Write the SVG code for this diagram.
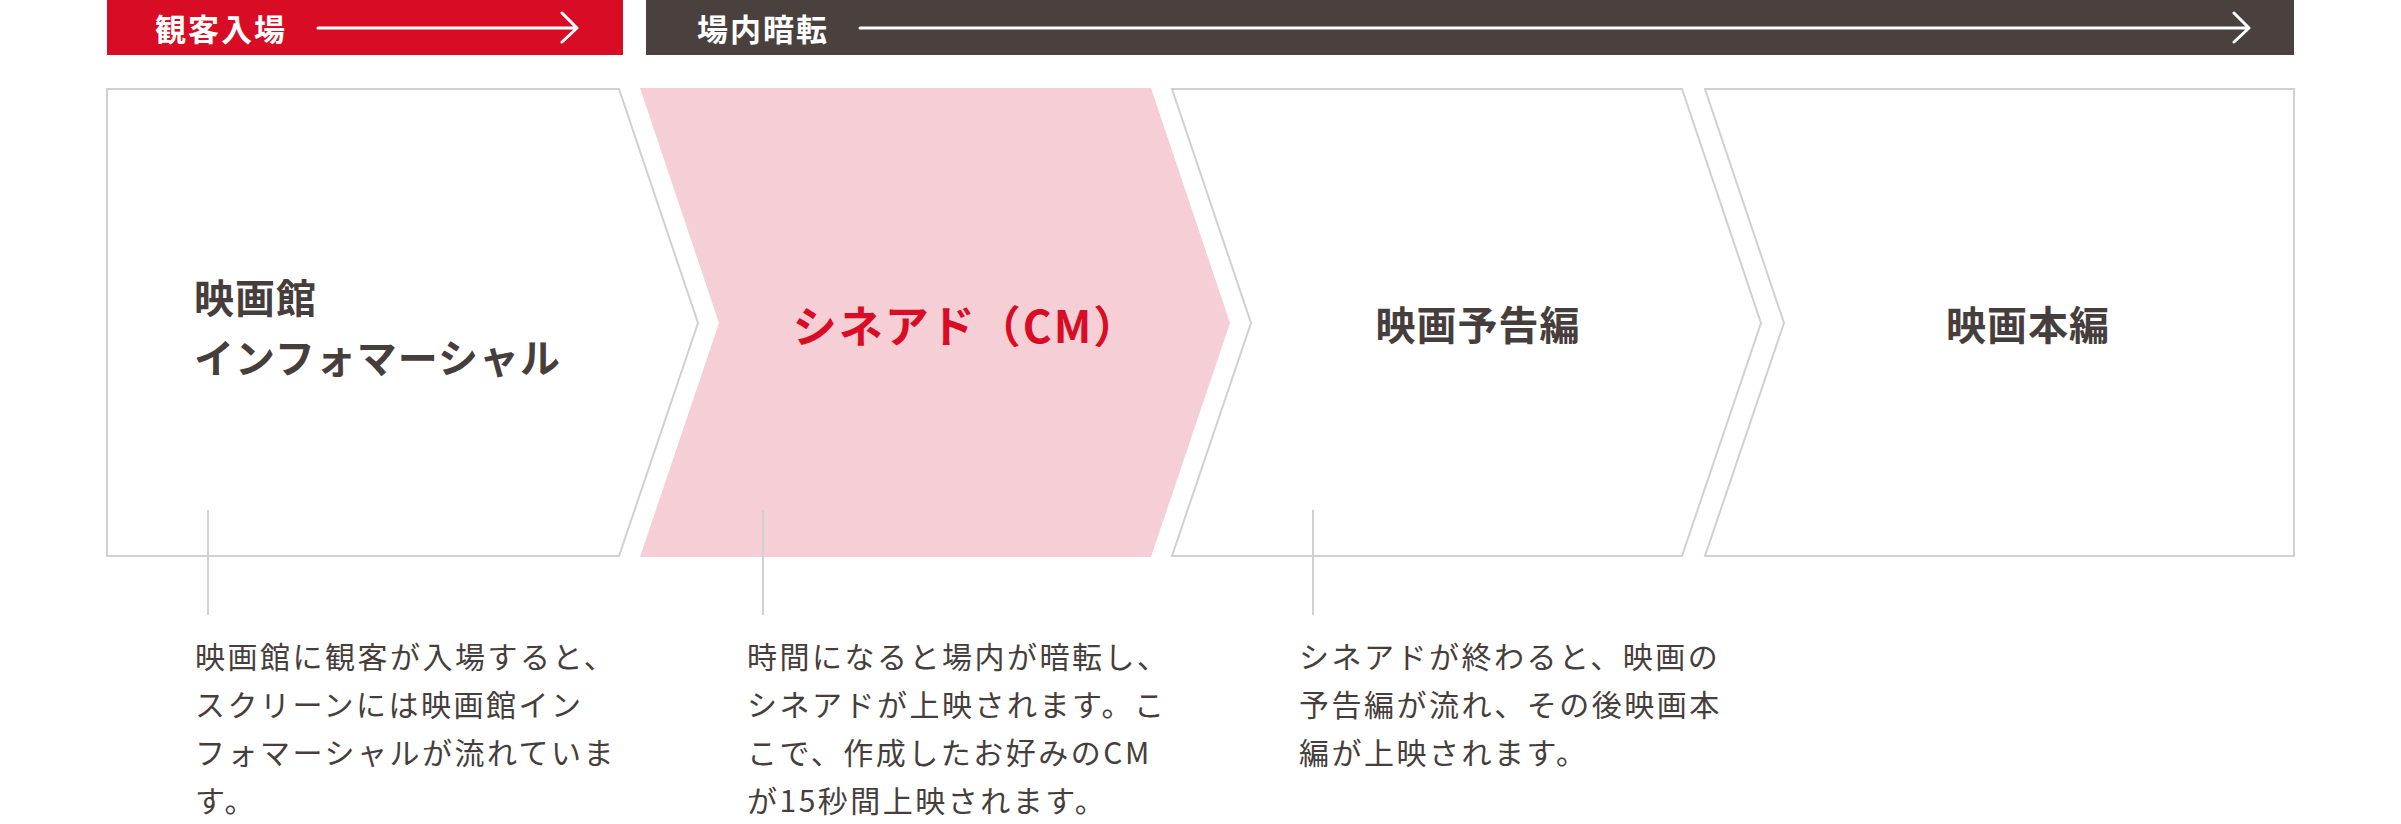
<svg xmlns="http://www.w3.org/2000/svg" width="2401" height="824" viewBox="0 0 2401 824">
<style>
.box{fill:#ffffff;stroke:#d0d0d0;stroke-width:2}
.hd{font-family:"Noto Sans CJK JP","Noto Sans",sans-serif;font-weight:700;font-size:31px;fill:#ffffff;letter-spacing:2px}
.ttl{font-family:"Noto Sans CJK JP","Noto Sans",sans-serif;font-weight:700;font-size:40px;fill:#463e3c;letter-spacing:1px}
.ttl-red{font-family:"Noto Sans CJK JP","Noto Sans",sans-serif;font-weight:700;font-size:44px;fill:#d80c24;letter-spacing:2px}
.desc{font-family:"Noto Sans CJK JP","Noto Sans",sans-serif;font-weight:400;font-size:30px;fill:#463e3c;letter-spacing:2.5px}
.arr{fill:none;stroke:#ffffff;stroke-width:3;stroke-linecap:round;stroke-linejoin:round}
.lead{stroke:#d0d0d0;stroke-width:2}
</style>
<g id="header-entry">
<rect x="107" y="0" width="516" height="55" fill="#d80c24"/>
<text class="hd" x="155" y="41">観客入場</text>
<path class="arr" d="M318,28 H576 M562,13 L577,28 L562,42"/>
</g>
<g id="header-dark">
<rect x="646" y="0" width="1648" height="55" fill="#4a403e"/>
<text class="hd" x="697" y="41">場内暗転</text>
<path class="arr" d="M860,28 H2248 M2234,13 L2249,28 L2234,42"/>
</g>
<g id="node-infomercial">
<path class="box" d="M107,89 L619,89 L698,323 L619,556 L107,556 Z"/>
<text class="ttl" x="194" y="313">映画館</text>
<text class="ttl" x="194" y="373">インフォマーシャル</text>
</g>
<g id="node-cinead">
<path d="M640,88 L1151,88 L1230,323 L1151,557 L640,557 L719,323 Z" fill="#f6ced5"/>
<text class="ttl-red" x="966" y="343" text-anchor="middle">シネアド（CM）</text>
</g>
<g id="node-trailer">
<path class="box" d="M1172,89 L1682,89 L1761,323 L1682,556 L1172,556 L1251,323 Z"/>
<text class="ttl" x="1478" y="340" text-anchor="middle">映画予告編</text>
</g>
<g id="node-feature">
<path class="box" d="M1705,89 L2294,89 L2294,556 L1705,556 L1784,323 Z"/>
<text class="ttl" x="2028" y="340" text-anchor="middle">映画本編</text>
</g>
<g id="connectors">
<line class="lead" x1="208" y1="510" x2="208" y2="615"/>
<line class="lead" x1="763" y1="510" x2="763" y2="615"/>
<line class="lead" x1="1313" y1="510" x2="1313" y2="615"/>
</g>
<g id="desc-infomercial">
<text class="desc" x="195" y="668">映画館に観客が入場すると、</text>
<text class="desc" x="195" y="716">スクリーンには映画館イン</text>
<text class="desc" x="195" y="764">フォマーシャルが流れていま</text>
<text class="desc" x="195" y="812">す。</text>
</g>
<g id="desc-cinead">
<text class="desc" x="747" y="668">時間になると場内が暗転し、</text>
<text class="desc" x="747" y="716">シネアドが上映されます。こ</text>
<text class="desc" x="747" y="764">こで、作成したお好みのCM</text>
<text class="desc" x="747" y="812">が15秒間上映されます。</text>
</g>
<g id="desc-trailer">
<text class="desc" x="1299" y="668">シネアドが終わると、映画の</text>
<text class="desc" x="1299" y="716">予告編が流れ、その後映画本</text>
<text class="desc" x="1299" y="764">編が上映されます。</text>
</g>
</svg>
